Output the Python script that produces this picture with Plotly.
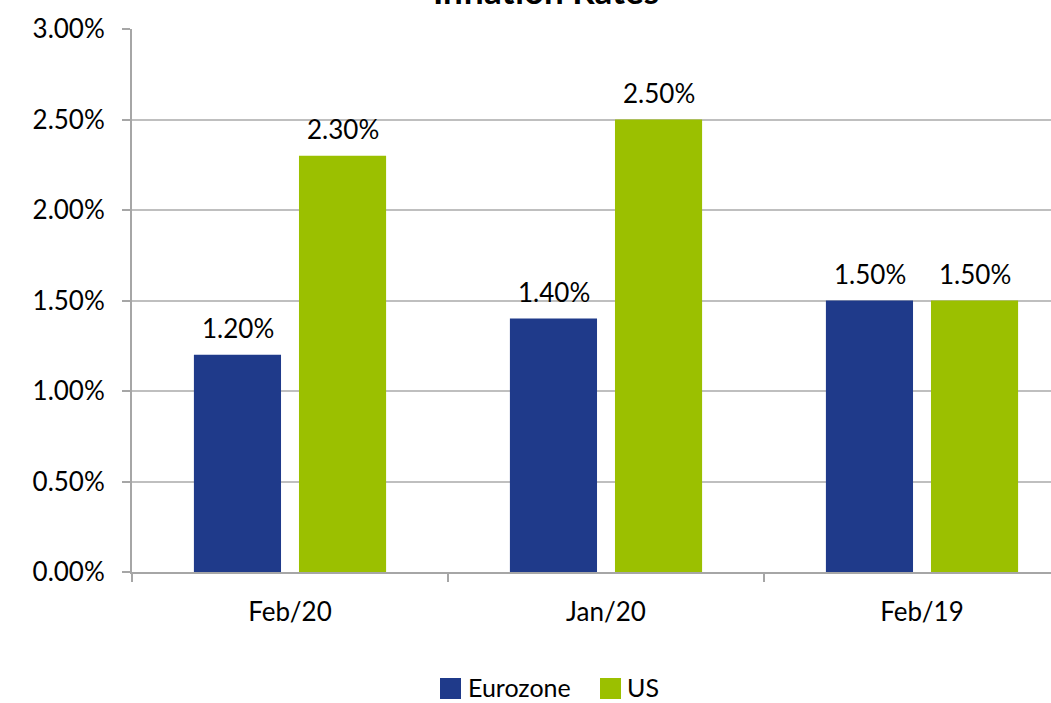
import plotly.graph_objects as go

categories = ["Feb/20", "Jan/20", "Feb/19"]
eurozone = [1.20, 1.40, 1.50]
us = [2.30, 2.50, 1.50]
series_names = ["Eurozone", "US"]
series_colors = ["#1F3A8A", "#9BC000"]
yticks = [0, 0.5, 1.0, 1.5, 2.0, 2.5, 3.0]
ytick_labels = ["0.00%", "0.50%", "1.00%", "1.50%", "2.00%", "2.50%", "3.00%"]

FONT = "Lato"
W, H = 1051, 703
L, R, T, B = 132, 0, 29, 131
plot_w = W - L - R
plot_h = H - T - B
cat_w = 316
x_end = -0.5 + plot_w / cat_w


def px_x(px):
    return (px - L) / plot_w


def px_y(py):
    return (H - B - py) / plot_h


fig = go.Figure()
for name, vals, col in zip(series_names, [eurozone, us], series_colors):
    fig.add_trace(go.Bar(
        name=name, x=categories, y=vals,
        marker=dict(color=col, line=dict(width=0)),
        showlegend=False,
    ))

annotations = []
# data labels above bars
for vals, xs in zip([eurozone, us], [-52.5, 52.5]):
    for c, v in zip(categories, vals):
        annotations.append(dict(
            x=c, y=v, xref="x", yref="y", text=f"{v:.2f}%", showarrow=False,
            xanchor="center", yanchor="bottom", xshift=xs, yshift=9,
            font=dict(family=FONT, size=26, color="#000000"),
        ))

# title (partly cut off at top, as in the reference)
annotations.append(dict(
    text="<b>Inflation Rates</b>", xref="paper", yref="paper",
    x=px_x(546), y=px_y(13), xanchor="center", yanchor="bottom",
    showarrow=False, font=dict(family=FONT, size=35, color="#000000"),
))

# legend
shapes = []
leg_items = [(440, 466), (600, 625)]
for (sq_x, tx), name, col in zip(leg_items, series_names, series_colors):
    shapes.append(dict(type="rect", xref="paper", yref="paper",
                       x0=px_x(sq_x), x1=px_x(sq_x + 21), y0=px_y(699), y1=px_y(678),
                       fillcolor=col, line=dict(width=0)))
    annotations.append(dict(text=name, xref="paper", yref="paper", x=px_x(tx), y=px_y(687),
                            xanchor="left", yanchor="middle", showarrow=False,
                            font=dict(family=FONT, size=25, color="#000000")))

fig.update_layout(
    width=W, height=H,
    margin=dict(l=L, r=R, t=T, b=B),
    paper_bgcolor="white", plot_bgcolor="white",
    barmode="group", bargap=0.335, bargroupgap=0.171,
    font=dict(family=FONT, size=26, color="#000000"),
    showlegend=False,
    xaxis=dict(
        range=[-0.5, x_end], tickson="boundaries", ticks="outside", ticklen=8,
        tickcolor="#A6A6A6", tickwidth=2, showline=True, linecolor="#A6A6A6", linewidth=2,
        showgrid=False, tickfont=dict(family=FONT, size=26), ticklabelstandoff=16,
    ),
    yaxis=dict(
        range=[0, 3.0], tickvals=yticks, ticktext=ytick_labels, ticks="outside", ticklen=8,
        tickcolor="#A6A6A6", tickwidth=2, showline=True, linecolor="#A6A6A6", linewidth=2,
        showgrid=True, gridcolor="#BFBFBF", gridwidth=2, zeroline=False,
        tickfont=dict(family=FONT, size=26), ticklabelstandoff=12,
    ),
    annotations=annotations,
    shapes=shapes,
)

fig.write_html("out.html")
